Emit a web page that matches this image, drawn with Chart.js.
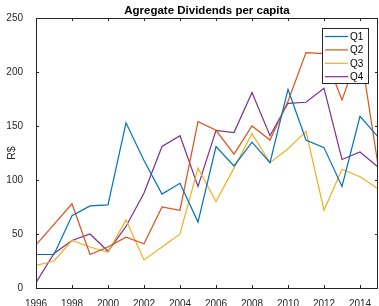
<!DOCTYPE html>
<html>
<head>
<meta charset="utf-8">
<script src="https://cdn.jsdelivr.net/npm/chart.js@4/dist/chart.umd.min.js"></script>
<style>
html,body{margin:0;padding:0;background:#fff;}
#wrap{width:379px;height:306px;}
</style>
</head>
<body>
<div id="wrap"><canvas id="c" width="379" height="306"></canvas></div>
<script>
const years = [1996,1997,1998,1999,2000,2001,2002,2003,2004,2005,2006,2007,2008,2009,2010,2011,2012,2013,2014,2015];
const q1 = [31,31,67,76,77,153,118,87,97,61,131,113,135,116,184,137,130,94,159,140];
const q2 = [40,59,78,31,38,47,41,75,72,154,146,124,150,137,173,218,217,174,222,114];
const q3 = [21,25,44,38,33,63,26,38,50,111,80,111,143,116,129,145,72,110,103,92];
const q4 = [5,32,44,50,34,57,88,131,141,94,146,144,181,141,171,172,185,119,126,112];
const seriesNames = ['Q1','Q2','Q3','Q4'];
const seriesColors = ['#0072BD','#D95319','#EDB120','#7E2F8E'];
const xTicks = [1996,1998,2000,2002,2004,2006,2008,2010,2012,2014];
const yTicks = [0,50,100,150,200,250];
const titleText = 'Agregate Dividends per capita';
const yLabel = 'R$';

const FONT = '"Liberation Sans", Arial, Helvetica, sans-serif';
const AX = '#262626';

const allSeries = [q1,q2,q3,q4];
const datasets = allSeries.map((s,i)=>({
  label: seriesNames[i],
  data: s.map((v,j)=>({x: years[j], y: v})),
  borderColor: seriesColors[i],
  backgroundColor: seriesColors[i],
  borderWidth: 1.2,
  pointRadius: 0,
  tension: 0,
  fill: false
}));

const deco = {
  id: 'deco',
  afterDraw(chart){
    const ctx = chart.ctx;
    const a = chart.chartArea;
    const xs = chart.scales.x, ys = chart.scales.y;
    ctx.save();
    ctx.strokeStyle = AX;
    ctx.lineWidth = 1;
    ctx.strokeRect(Math.round(a.left)+0.5, Math.round(a.top)+0.5, Math.round(a.right-a.left)-1, Math.round(a.bottom-a.top));
    const tl = 3;
    ctx.beginPath();
    xTicks.forEach(v=>{
      const px = Math.round(xs.getPixelForValue(v))+0.5;
      ctx.moveTo(px, a.bottom); ctx.lineTo(px, a.bottom-tl);
      ctx.moveTo(px, a.top); ctx.lineTo(px, a.top+tl);
    });
    yTicks.forEach(v=>{
      const py = Math.round(ys.getPixelForValue(v))+0.5;
      ctx.moveTo(a.left, py); ctx.lineTo(a.left+tl, py);
      ctx.moveTo(a.right, py); ctx.lineTo(a.right-tl, py);
    });
    ctx.stroke();
    ctx.fillStyle = '#000';
    ctx.font = 'bold 11.5px ' + FONT;
    ctx.textAlign = 'center';
    ctx.textBaseline = 'alphabetic';
    ctx.fillText(titleText, (a.left+a.right)/2, 14);
    ctx.save();
    ctx.translate(12, (a.top+a.bottom)/2);
    ctx.rotate(-Math.PI/2);
    ctx.fillStyle = AX;
    ctx.font = '10.5px ' + FONT;
    ctx.textAlign = 'center';
    ctx.textBaseline = 'middle';
    ctx.fillText(yLabel, 0, 0);
    ctx.restore();
    const lx = 322, ly = 28, lw = 46, lh = 55;
    ctx.fillStyle = '#fff';
    ctx.fillRect(lx, ly, lw, lh);
    ctx.strokeStyle = AX;
    ctx.strokeRect(lx+0.5, ly+0.5, lw, lh);
    ctx.font = '10px ' + FONT;
    ctx.textAlign = 'left';
    ctx.textBaseline = 'middle';
    seriesNames.forEach((n,i)=>{
      const yy = ly + 8.5 + i*13.4;
      ctx.strokeStyle = seriesColors[i];
      ctx.lineWidth = 1.2;
      ctx.beginPath();
      ctx.moveTo(lx+3, yy); ctx.lineTo(lx+26, yy);
      ctx.stroke();
      ctx.fillStyle = '#000';
      ctx.fillText(n, lx+28, yy+0.5);
    });
    ctx.restore();
  }
};

new Chart(document.getElementById('c'), {
  type: 'line',
  data: { datasets },
  options: {
    responsive: false,
    animation: false,
    devicePixelRatio: 1,
    layout: { padding: { top: 18, right: 1, left: 0, bottom: 0 } },
    plugins: { legend: { display: false }, title: { display: false }, tooltip: { enabled: false } },
    scales: {
      x: {
        type: 'linear', min: 1996, max: 2015,
        grid: { display: false }, border: { display: false },
        afterBuildTicks: s => { s.ticks = xTicks.map(v=>({value:v})); },
        afterFit: s => { s.height = 18; },
        ticks: { color: AX, font: { size: 10, family: FONT }, padding: 2, maxRotation: 0, autoSkip: false, callback: v => String(v) }
      },
      y: {
        type: 'linear', min: 0, max: 250,
        grid: { display: false }, border: { display: false },
        afterBuildTicks: s => { s.ticks = yTicks.map(v=>({value:v})); },
        afterFit: s => { s.width = 36; },
        ticks: { color: AX, font: { size: 10, family: FONT }, padding: 5, callback: v => String(v) }
      }
    }
  },
  plugins: [deco]
});
</script>
</body>
</html>
